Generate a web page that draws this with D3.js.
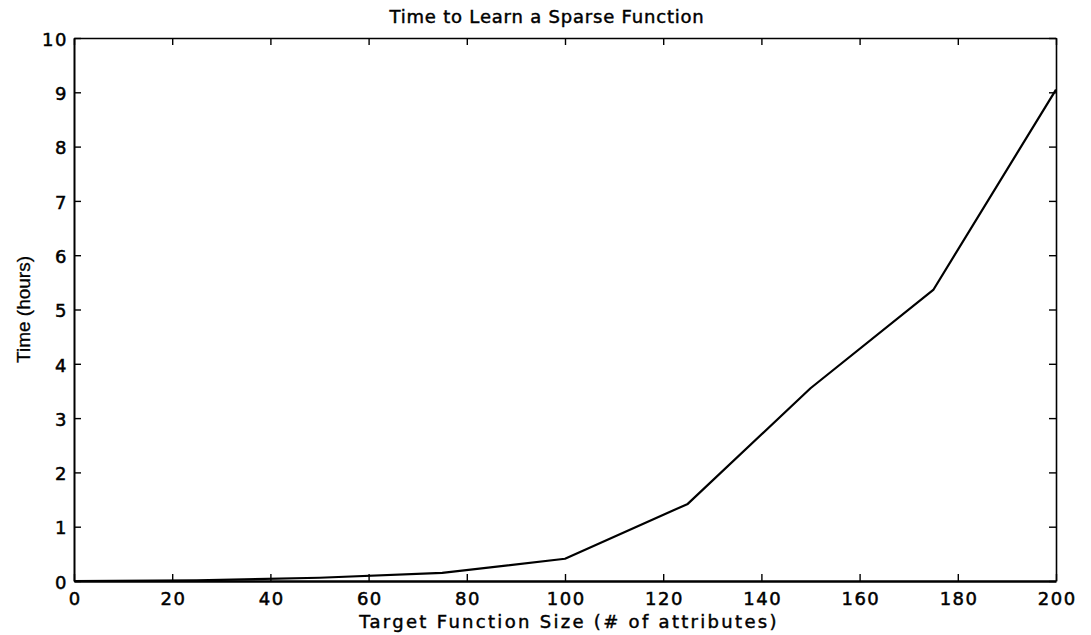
<!DOCTYPE html>
<html lang="en">
<head>
    <meta charset="UTF-8">
    <script src="https://cdnjs.cloudflare.com/ajax/libs/d3/7.8.5/d3.min.js"></script>
    <title>Time to Learn a Sparse Function</title>
    <style>
        body { margin: 0; background: #fff; }
        svg { display: block; }
        .tick text { font-family: "DejaVu Sans", sans-serif; font-size: 18px; fill: #000;
            stroke: #000; stroke-width: 0.5px; letter-spacing: 1.5px; }
        .lbl { font-family: "DejaVu Sans", sans-serif; font-size: 18px; fill: #000;
            stroke: #000; stroke-width: 0.45px; }
    </style>
</head>
<body>
    <svg width="1091" height="635"></svg>
    <script>
        // values
        const sizes = [0, 25, 50, 75, 100, 125, 150, 175, 200]
        const hours = [0, 0.01, 0.06, 0.15, 0.41, 1.42, 3.55, 5.36, 9.05]
        const xTicks = [0, 20, 40, 60, 80, 100, 120, 140, 160, 180, 200]
        const yTicks = [0, 1, 2, 3, 4, 5, 6, 7, 8, 9, 10]

        const margin = { top: 38, right: 35, bottom: 54, left: 74 }
        const svg = d3.select("svg")
        const W = +svg.attr("width"), H = +svg.attr("height")
        const w = W - margin.left - margin.right
        const h = H - margin.top - margin.bottom

        const x = d3.scaleLinear().domain([0, 200]).range([0, w])
        const y = d3.scaleLinear().domain([0, 10]).range([h, 0])

        const g = svg.append("g").attr("transform", `translate(${margin.left},${margin.top})`)

        const tk = 7
        // bottom + left with labels, ticks pointing inward
        const xAxis = g.append("g").attr("transform", `translate(0,${h})`)
            .call(d3.axisBottom(x).tickValues(xTicks).tickSizeInner(-tk).tickSizeOuter(0).tickPadding(14))
        const yAxis = g.append("g")
            .call(d3.axisLeft(y).tickValues(yTicks).tickSizeInner(-tk).tickSizeOuter(0).tickPadding(6))
        // top + right, ticks only
        g.append("g")
            .call(d3.axisTop(x).tickValues(xTicks).tickSizeInner(-tk).tickSizeOuter(0).tickFormat(""))
        g.append("g").attr("transform", `translate(${w},0)`)
            .call(d3.axisRight(y).tickValues(yTicks).tickSizeInner(-tk).tickSizeOuter(0).tickFormat(""))

        g.selectAll(".domain").attr("stroke", "#000").attr("stroke-width", 1.6)
        g.selectAll(".tick line").attr("stroke", "#000").attr("stroke-width", 1.4)
        xAxis.select(".domain").attr("stroke-width", 2.4)
        yAxis.select(".domain").attr("stroke-width", 2)
        xAxis.selectAll(".tick text").attr("dy", "0.55em").attr("dx", "0.75px")
        yAxis.selectAll(".tick text").attr("dy", "0.4em")

        const pts = sizes.map((s, i) => [s, hours[i]])
        g.append("path")
            .datum(pts)
            .attr("fill", "none")
            .attr("stroke", "#000")
            .attr("stroke-width", 2.2)
            .attr("stroke-linejoin", "round")
            .attr("d", d3.line().x(d => x(d[0])).y(d => y(d[1])))

        svg.append("text")
            .attr("class", "lbl")
            .attr("x", 547).attr("y", 23)
            .attr("text-anchor", "middle")
            .style("letter-spacing", "0.8px")
            .text("Time to Learn a Sparse Function")

        svg.append("text")
            .attr("class", "lbl")
            .attr("x", margin.left + w / 2 + 4).attr("y", 628)
            .attr("text-anchor", "middle")
            .style("letter-spacing", "2.3px")
            .text("Target Function Size (# of attributes)")

        svg.append("text")
            .attr("class", "lbl")
            .attr("transform", `translate(30,${margin.top + h / 2}) rotate(-90)`)
            .attr("text-anchor", "middle")
            .style("font-family", "Liberation Sans Narrow, Arial Narrow, sans-serif")
            .style("font-size", "19px")
            .style("stroke-width", "0.3px")
            .text("Time (hours)")
    </script>
</body>
</html>
